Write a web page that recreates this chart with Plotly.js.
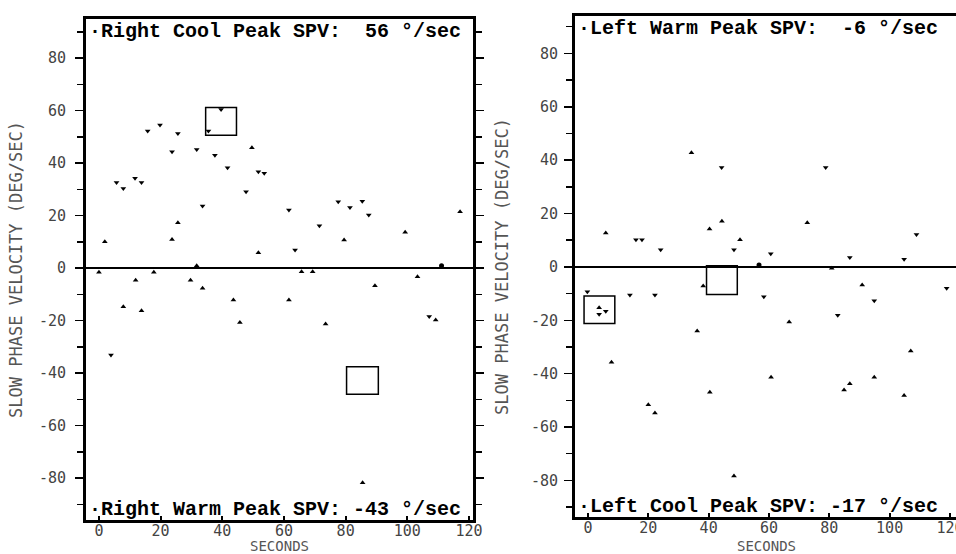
<!DOCTYPE html>
<html>
<head>
<meta charset="utf-8">
<script src="https://cdn.plot.ly/plotly-3.0.1.min.js"></script>
<style>html,body{margin:0;padding:0;background:#fff}</style>
</head>
<body>
<div id="chart" style="width:956px;height:554px"></div>
<script>
// ---- Data ----
// Left panel: Right ear irrigations
const rightDownX = [5.7, 7.9, 11.7, 13.8, 15.8, 19.8, 23.7, 25.6, 31.7, 33.6, 35.5, 39.6, 37.6, 41.7, 47.7, 51.7, 53.6, 3.9, 61.6, 63.6, 71.5, 77.6, 81.4, 85.4, 87.5, 107.1];
const rightDownY = [32.6, 30.3, 34.2, 32.6, 52.2, 54.5, 44.3, 51.3, 45.2, 23.6, 52.2, 60.4, 43.0, 38.2, 29.1, 36.7, 36.1, -33.1, 22.1, 6.9, 16.1, 25.3, 23.1, 25.5, 20.2, -18.5];
const rightUpX = [1.9, 23.7, 25.6, 31.7, 49.6, 51.7, 0, 7.9, 11.9, 13.8, 17.8, 29.7, 33.6, 43.6, 45.7, 79.5, 99.3, 117.1, 65.7, 69.3, 103.3, 61.6, 73.5, 89.5, 109.2, 85.5];
const rightUpY = [10.0, 10.9, 17.3, 0.9, 45.8, 5.8, -1.6, -14.7, -4.6, -16.3, -1.6, -4.6, -7.7, -12.2, -20.7, 10.7, 13.6, 21.5, -1.4, -1.4, -3.3, -12.2, -21.3, -6.7, -19.8, -81.8];
const rightDotX = [111.1];
const rightDotY = [0.9];

// Right panel: Left ear irrigations
const leftDownX = [15.9, 17.9, 24.1, 44.3, 48.4, 78.8, 60.6, 86.8, 104.8, 108.9, -0.2, 13.9, 22.2, 58.3, 82.8, 94.9, 118.9, 3.7, 5.9];
const leftDownY = [10.2, 10.2, 6.4, 37.2, 6.4, 37.2, 4.9, 3.5, 2.9, 12.1, -9.3, -10.5, -10.5, -11.2, -18.1, -12.7, -8.0, -17.7, -16.6];
const leftUpX = [5.9, 34.3, 40.3, 44.4, 50.4, 72.7, 80.8, 7.8, 36.2, 20.0, 22.2, 40.4, 48.4, 66.7, 60.7, 90.9, 107.0, 94.9, 86.8, 84.9, 104.8, 3.7, 38.2];
const leftUpY = [12.7, 42.8, 14.2, 17.1, 10.2, 16.5, -0.5, -35.7, -24.0, -51.6, -54.7, -47.0, -78.3, -20.6, -41.3, -6.8, -31.5, -41.3, -43.8, -46.1, -48.2, -15.3, -7.2];
const leftDotX = [56.7];
const leftDotY = [0.75];

// Peak boxes: [x0, x1, y0, y1]
const rightBoxX0 = [34.6, 80.3];
const rightBoxX1 = [44.6, 90.6];
const rightBoxY0 = [50.6, -48.1];
const rightBoxY1 = [61.2, -37.6];
const leftBoxX0 = [-1.3, 39.3];
const leftBoxX1 = [8.9, 49.5];
const leftBoxY0 = [-21.2, -10.3];
const leftBoxY1 = [-10.9, 0.4];

// Labels
const xTicks = [0, 20, 40, 60, 80, 100, 120];
const yTicks = [-80, -60, -40, -20, 0, 20, 40, 60, 80];
const peakLabels = [
  "\u00b7Right Cool Peak SPV:  56 \u00b0/sec",
  "\u00b7Right Warm Peak SPV: -43 \u00b0/sec",
  "\u00b7Left Warm Peak SPV:  -6 \u00b0/sec",
  "\u00b7Left Cool Peak SPV: -17 \u00b0/sec"
];
const yTitle = "SLOW PHASE VELOCITY (DEG/SEC)";
const xTitle = "SECONDS";

// ---- Build ----
const W = 956, H = 554;
const px = v => v / W;
const py = v => (H - v) / H;
const mono = "DejaVu Sans Mono, monospace";
const tickFont = {family: mono, size: 15, color: "#444"};
const titleFont = {family: mono, size: 17, color: "#555"};
const xTitleFont = {family: mono, size: 14, color: "#555"};
const boxFont = {family: "Liberation Mono, monospace", size: 20, color: "#000", weight: "bold"};

function pts(x, y, sym, xa, ya, size) {
  return {x: x, y: y, type: "scatter", mode: "markers", xaxis: xa, yaxis: ya,
    marker: {symbol: sym, size: size, color: "#000"}, hoverinfo: "x+y"};
}

const data = [
  pts(rightDownX, rightDownY, "triangle-down", "x", "y", 5),
  pts(rightUpX, rightUpY, "triangle-up", "x", "y", 5),
  pts(rightDotX, rightDotY, "circle", "x", "y", 5),
  pts(leftDownX, leftDownY, "triangle-down", "x2", "y2", 5),
  pts(leftUpX, leftUpY, "triangle-up", "x2", "y2", 5),
  pts(leftDotX, leftDotY, "circle", "x2", "y2", 5)
];

const shapes = [];
function addBoxes(x0, x1, y0, y1, xr, yr) {
  for (let i = 0; i < x0.length; i++) {
    shapes.push({type: "rect", xref: xr, yref: yr, x0: x0[i], x1: x1[i], y0: y0[i], y1: y1[i],
      line: {color: "#000", width: 1.5}, fillcolor: "rgba(0,0,0,0)"});
  }
}
addBoxes(rightBoxX0, rightBoxX1, rightBoxY0, rightBoxY1, "x", "y");
addBoxes(leftBoxX0, leftBoxX1, leftBoxY0, leftBoxY1, "x2", "y2");

const xCommon = {
  tickvals: xTicks, ticktext: xTicks.map(String), ticks: "inside", ticklen: 4, tickwidth: 2, tickcolor: "#000",
  showline: true, linewidth: 3, linecolor: "#000", mirror: true, showgrid: false, zeroline: false,
  tickfont: tickFont, fixedrange: true, ticklabeloverflow: "allow", ticklabelstandoff: -5
};
const yCommon = {
  tickvals: yTicks, ticktext: yTicks.map(String), ticks: "outside", ticklen: 8, tickwidth: 1.5, tickcolor: "#000",
  minor: {dtick: 10, tick0: 0, ticks: "outside", ticklen: 6, tickwidth: 1.5, tickcolor: "#000", showgrid: false},
  showline: true, linewidth: 3, linecolor: "#000", showgrid: false,
  zeroline: true, zerolinecolor: "#000", zerolinewidth: 1.5,
  tickfont: tickFont, fixedrange: true
};

const layout = {
  width: W, height: H,
  margin: {l: 0, r: 0, t: 0, b: 0},
  paper_bgcolor: "#fff", plot_bgcolor: "#fff",
  showlegend: false,
  xaxis: Object.assign({}, xCommon, {
    domain: [px(86), px(473)], range: [-4.2, 121.3], anchor: "y"
  }),
  yaxis: Object.assign({}, yCommon, {
    domain: [py(520), py(19)], range: [-96.0, 94.9], anchor: "x", mirror: "ticks",
    ticklabelstandoff: 6,
    title: {text: yTitle, font: titleFont, standoff: 12}
  }),
  xaxis2: Object.assign({}, xCommon, {
    domain: [px(575), 1], range: [-4.3, 122.0], anchor: "y2"
  }),
  yaxis2: Object.assign({}, yCommon, {
    domain: [py(517), py(16)], range: [-93.7, 94.0], anchor: "x2", mirror: false,
    ticklabelstandoff: 3,
    title: {text: yTitle, font: titleFont, standoff: 18}
  }),
  shapes: shapes,
  annotations: [
    {text: peakLabels[0], xref: "paper", yref: "paper", x: px(87), y: py(31), xanchor: "left", yanchor: "middle", showarrow: false, font: boxFont},
    {text: peakLabels[1], xref: "paper", yref: "paper", x: px(87), y: py(509), xanchor: "left", yanchor: "middle", showarrow: false, font: boxFont},
    {text: peakLabels[2], xref: "paper", yref: "paper", x: px(576), y: py(29), xanchor: "left", yanchor: "middle", showarrow: false, font: boxFont},
    {text: peakLabels[3], xref: "paper", yref: "paper", x: px(576), y: py(506), xanchor: "left", yanchor: "middle", showarrow: false, font: boxFont},
    {text: xTitle, xref: "paper", yref: "paper", x: px(279), y: py(546), xanchor: "center", yanchor: "middle", showarrow: false, font: xTitleFont, borderpad: 0},
    {text: xTitle, xref: "paper", yref: "paper", x: px(766), y: py(546), xanchor: "center", yanchor: "middle", showarrow: false, font: xTitleFont, borderpad: 0}
  ]
};

Plotly.newPlot("chart", data, layout, {displayModeBar: false, staticPlot: true});
</script>
</body>
</html>
